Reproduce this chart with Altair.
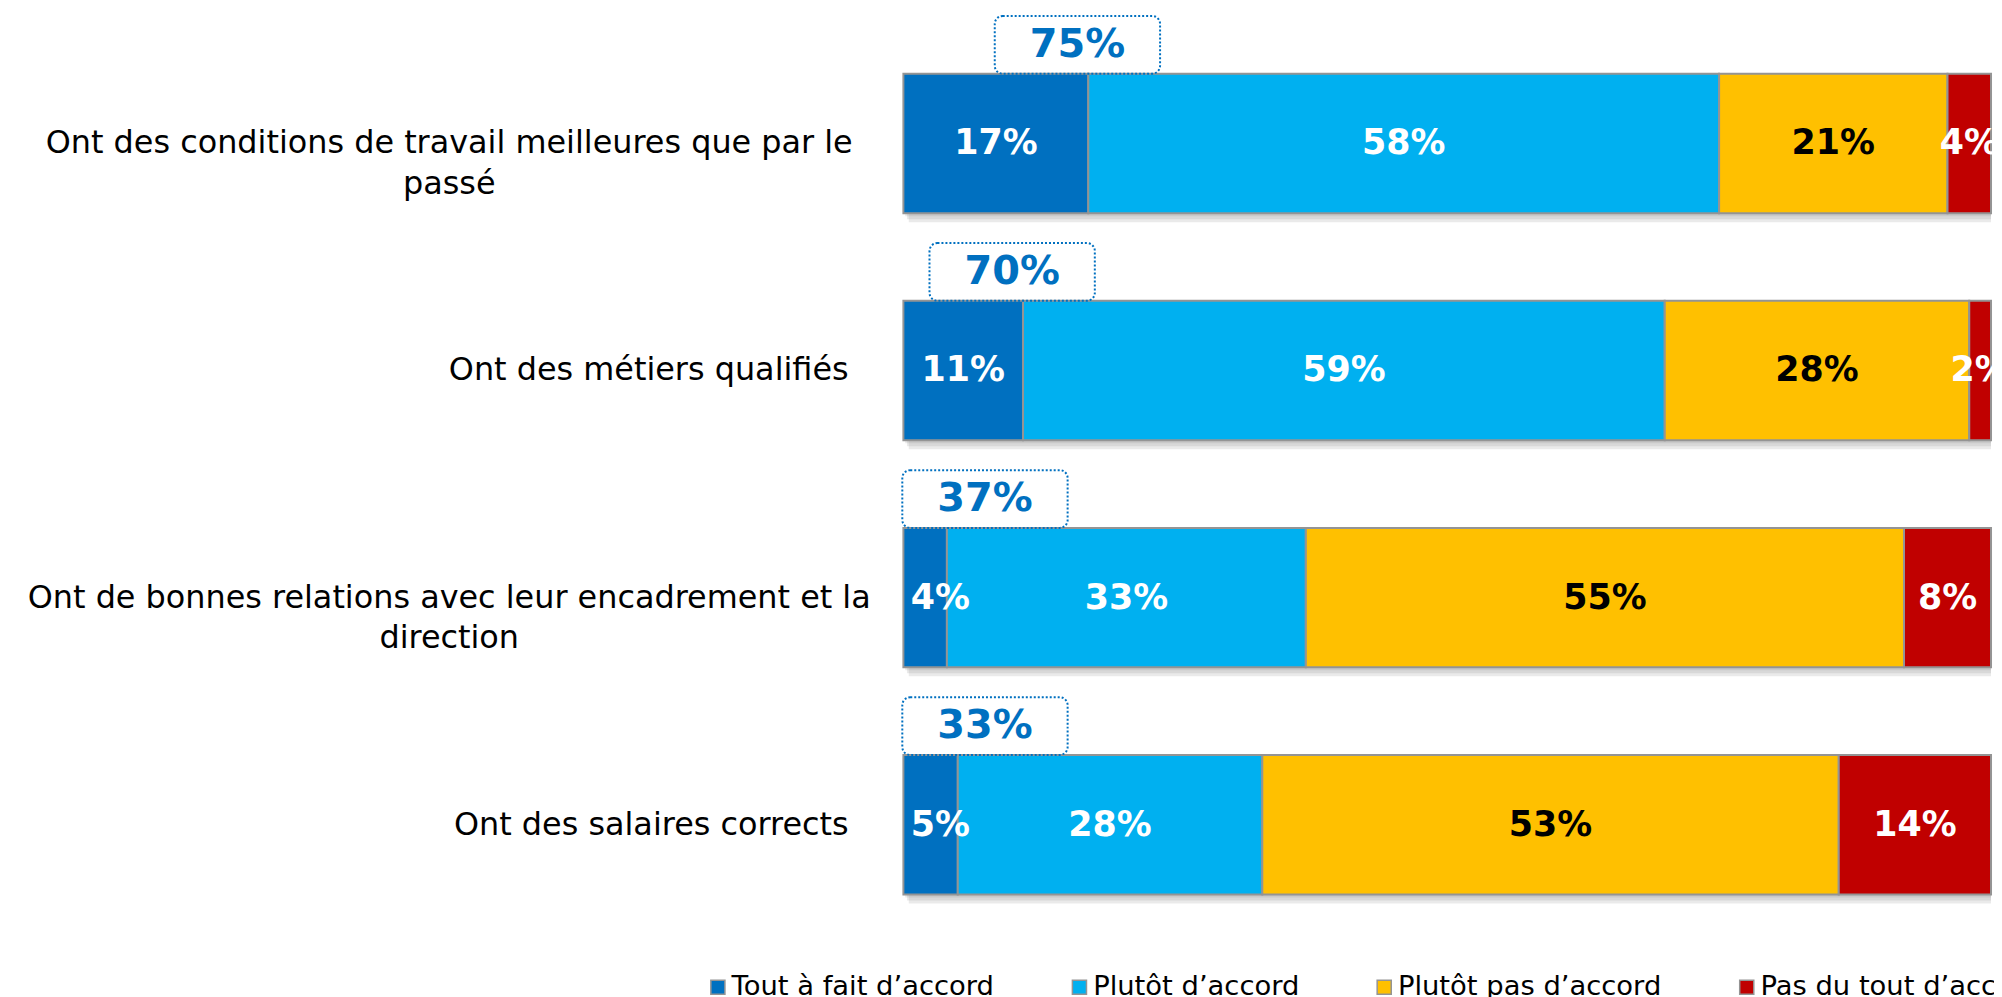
import altair as alt
import pandas as pd

categories = [
    "Ont des conditions de travail meilleures que par le|passé",
    "Ont des métiers qualifiés",
    "Ont de bonnes relations avec leur encadrement et la|direction",
    "Ont des salaires corrects",
]
segments = ["Tout à fait d’accord", "Plutôt d’accord", "Plutôt pas d’accord", "Pas du tout d’accord"]
tout = [17, 11, 4, 5]
plutot = [58, 59, 33, 28]
plutot_pas = [21, 28, 55, 53]
pas_du_tout = [4, 2, 8, 14]
top2 = ["75%", "70%", "37%", "33%"]
colors = ["#0070C0", "#00B0F0", "#FFC000", "#C00000"]

FONT = "DejaVu Sans"

rows = []
for i, c in enumerate(categories):
    for j, (s, vals) in enumerate(zip(segments, [tout, plutot, plutot_pas, pas_du_tout])):
        rows.append({"cat": c, "seg": s, "idx": j, "value": vals[i]})
df = pd.DataFrame(rows)

cat_df = pd.DataFrame({
    "cat": categories,
    "tout": tout,
    "top2": top2,
    "multi": ["|" in c for c in categories],
})

y_enc = alt.Y("cat:N", sort=categories, axis=None,
              scale=alt.Scale(paddingInner=0, paddingOuter=0))
x_scale = alt.Scale(domain=[0, 100], nice=False, zero=True)

stacked = alt.Chart(df).transform_stack(
    stack="value", as_=["v0", "v1"], groupby=["cat"], sort=[alt.SortField("idx")]
).transform_calculate(mid="max((datum.v0 + datum.v1) / 2, 3.4)")

BAR = 140

# drop shadow
shadow_layers = []
for off in [3, 6, 9]:
    shadow_layers.append(
        alt.Chart(cat_df).transform_calculate(a="0", b="100").mark_bar(
            size=BAR, color="#7f7f7f", opacity=0.16, xOffset=off * 0.6, yOffset=off
        ).encode(x=alt.X("a:Q", scale=x_scale, axis=None), x2="b:Q", y=y_enc)
    )

bars = stacked.mark_bar(size=BAR, stroke="#949494", strokeWidth=2).encode(
    x=alt.X("v0:Q", scale=x_scale, axis=None),
    x2="v1:Q",
    y=y_enc,
    color=alt.Color(
        "seg:N",
        scale=alt.Scale(domain=segments, range=colors),
        sort=segments,
        legend=alt.Legend(
            title=None, orient="none", direction="horizontal", columns=4,
            legendX=-200, legendY=947, symbolType="square", symbolSize=200,
            symbolStrokeColor="#949494", symbolStrokeWidth=1.5,
            labelFont=FONT, labelFontSize=27.5, labelColor="black",
            labelLimit=600, labelOffset=0, columnPadding=71, padding=0,
        ),
    ),
    order=alt.Order("idx:Q"),
)

seg_labels = stacked.mark_text(
    font=FONT, fontSize=35, fontWeight="bold", baseline="middle", align="center"
).encode(
    x=alt.X("mid:Q", scale=x_scale, axis=None),
    y=y_enc,
    text=alt.Text("label:N"),
    color=alt.condition("datum.idx == 2", alt.value("black"), alt.value("white")),
).transform_calculate(label="datum.value + '%'")

box_base = alt.Chart(cat_df).transform_calculate(
    anchor="max(datum.tout - 1, 7.5)",
    bx0="max(datum.tout - 1, 7.5) - 7.6",
    bx1="max(datum.tout - 1, 7.5) + 7.6",
)

boxes = box_base.mark_bar(
    size=58, yOffset=-99, fill="white", fillOpacity=0, stroke="#0070C0",
    strokeWidth=2, strokeDash=[2, 2], cornerRadius=8
).encode(x=alt.X("bx0:Q", scale=x_scale, axis=None), x2="bx1:Q", y=y_enc)

box_text = box_base.mark_text(
    font=FONT, fontSize=40, fontWeight="bold", color="#0070C0",
    baseline="middle", align="center", yOffset=-99
).encode(x=alt.X("anchor:Q", scale=x_scale, axis=None), y=y_enc, text="top2:N")

cat_single = alt.Chart(cat_df).transform_filter("!datum.multi").mark_text(
    font=FONT, fontSize=32, align="right", baseline="middle", color="black"
).encode(x=alt.value(-55), y=y_enc, text="cat:N")

cat_multi = alt.Chart(cat_df).transform_filter("datum.multi").mark_text(
    font=FONT, fontSize=32, align="center", baseline="middle", color="black",
    lineBreak="|", lineHeight=41
).encode(x=alt.value(-456), y=y_enc, text="cat:N")

chart = alt.layer(
    *shadow_layers, bars, seg_labels, boxes, box_text, cat_single, cat_multi
).properties(
    width=1092, height=912,
    padding={"left": 899, "top": 20, "right": 3, "bottom": 57},
    autosize=alt.AutoSizeParams(type="none"),
).configure(
    font=FONT, view=alt.ViewConfig(strokeWidth=0, stroke="transparent")
)

chart.save("out.html", embed_options={"renderer": "svg", "actions": False})
